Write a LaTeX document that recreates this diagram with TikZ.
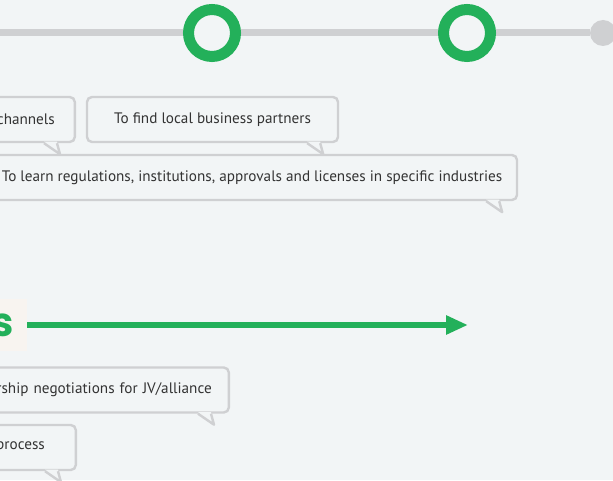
\documentclass[tikz,border=0pt]{standalone}
\usepackage{fontspec}
\setmainfont{PT Sans}
\newfontfamily\headfont{Poppins}
\usetikzlibrary{arrows.meta, positioning, calc}
\definecolor{pagebg}{RGB}{242,245,246}
\definecolor{trackgray}{RGB}{207,208,210}
\definecolor{ringgreen}{RGB}{35,176,90}
\definecolor{labelbeige}{RGB}{248,244,240}
\definecolor{textdark}{RGB}{51,51,51}

% speech bubble tail under the right part of a box
\newcommand\bubbletail[1]{%
  \fill[pagebg] ($(#1.south east)+(-32,1.6)$) -- ($(#1.south east)+(-16,-11)$) -- ($(#1.south east)+(-19,1.6)$) -- cycle;
  \draw[trackgray, line width=2.4pt, line join=round] ($(#1.south east)+(-32,0)$) -- ($(#1.south east)+(-16,-11)$) -- ($(#1.south east)+(-19,0)$);}

\begin{document}
\begin{tikzpicture}[x=1pt, y=1pt,
    bubble/.style={rectangle, draw=trackgray, line width=2.4pt, rounded corners=5pt, fill=pagebg, minimum height=45pt, text=textdark, font=\fontsize{15.2}{18}\selectfont},
    ring/.style={circle, draw=ringgreen, line width=11pt, fill=pagebg, minimum size=47pt, inner sep=0pt}]

    \clip (0,0) rectangle (613,480);
    \fill[pagebg] (0,0) rectangle (613,480);

    % timeline
    \node[circle, fill=trackgray, minimum size=26pt, inner sep=0pt] (enddot) at (603,447) {};
    \coordinate (linestart) at (0,447);
    \draw[trackgray, line width=7pt] (linestart) -- (enddot);
    \node[ring] (ringA) at (212,447) {};
    \node[ring] (ringB) at (467,447) {};

    % upper bubbles
    \node[bubble, anchor=east, text width=120pt, align=right, inner xsep=20pt] (channels) at (76,360.5) {\raisebox{-1.5pt}{channels}};
    \node[bubble, minimum width=251pt] (partners) at (212.5,360.5) {\raisebox{-1.5pt}{To find local business partners}};
    \node[bubble, minimum width=530pt] (licenses) at (252,302.5) {\raisebox{-1.5pt}{To learn regulations, institutions, approvals and licenses in specific industries}};
    \bubbletail{channels}
    \bubbletail{partners}
    \bubbletail{licenses}

    % phase label and arrow
    \node[fill=labelbeige, anchor=east, minimum height=52pt, inner xsep=13pt, text width=40pt, align=right, text=ringgreen, font=\headfont\bfseries\fontsize{40}{40}\selectfont] (phase) at (27,155) {s};
    \coordinate (arrowend) at (468,155);
    \draw[ringgreen, line width=6pt, -{Triangle[length=22pt, width=18pt]}] (phase) -- (arrowend);

    % lower bubbles
    \node[bubble, anchor=east, text width=300pt, align=right, inner xsep=17pt] (alliance) at (230,90) {\raisebox{-1.5pt}{rship negotiations for JV/alliance}};
    \node[bubble, anchor=east, text width=100pt, align=right, inner xsep=31pt] (process) at (77,32.5) {\raisebox{-1.5pt}{process}};
    \bubbletail{alliance}
    \bubbletail{process}
\end{tikzpicture}
\end{document}
